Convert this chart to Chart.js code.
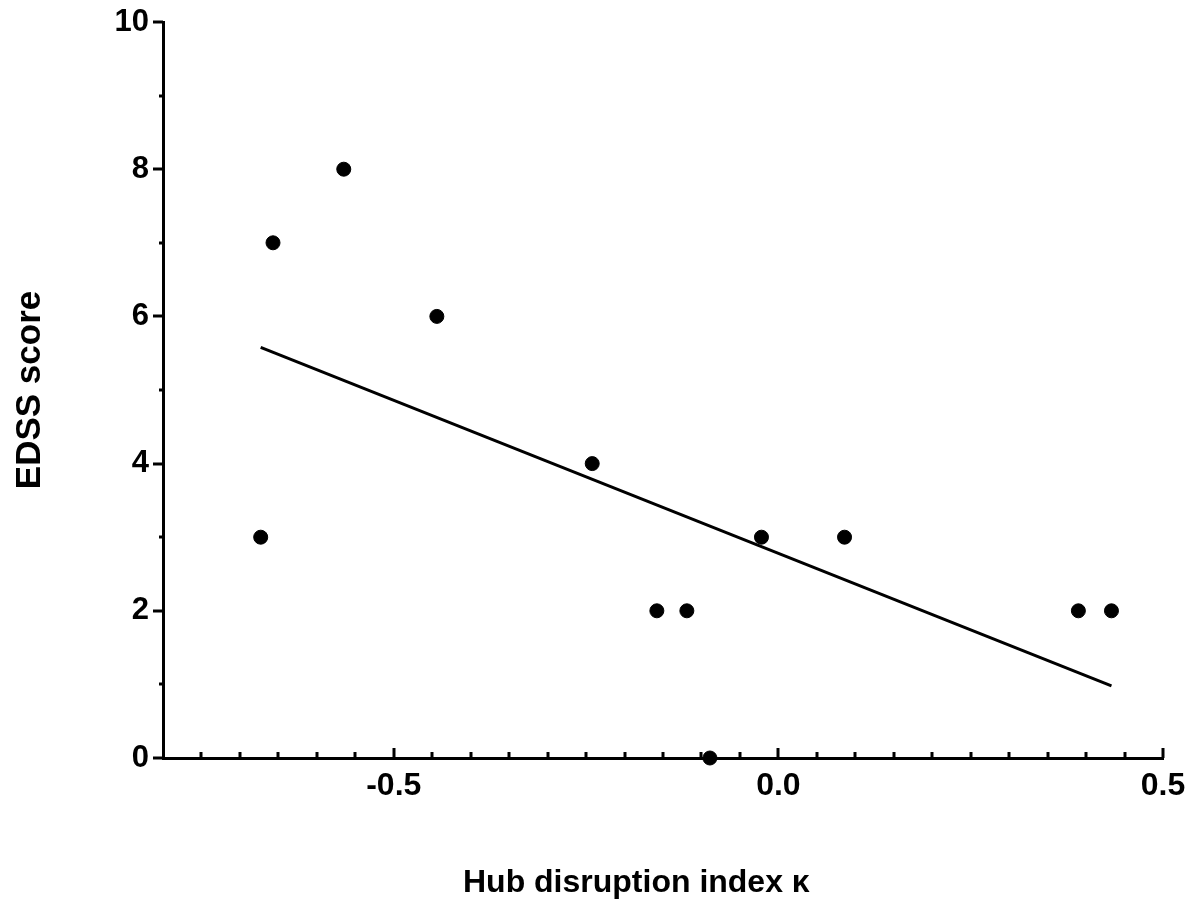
<!DOCTYPE html>
<html>
<head>
<meta charset="utf-8">
<script src="https://cdn.jsdelivr.net/npm/chart.js@4"></script>
<style>
  body { margin: 0; background: #fff; }
  #wrap { width: 1204px; height: 905px; }
</style>
</head>
<body>
<div id="wrap"><canvas id="chart" width="1204" height="905"></canvas></div>
<script>
// points
const hubIndex = [-0.673, -0.657, -0.565, -0.444, -0.242, -0.158, -0.119, -0.089, -0.022, 0.086, 0.390, 0.433];
const edss     = [3, 7, 8, 6, 4, 2, 2, 0, 3, 3, 2, 2];
// fitted line end points
const fitX = [-0.673, 0.433];
const fitY = [5.58, 0.98];
const xTicks = [-0.5, 0.0, 0.5];
const yTicks = [0, 2, 4, 6, 8, 10];

const FONT = "'Liberation Sans', Arial, sans-serif";

// draws inward x ticks and outward y ticks, major + minor
const tickPlugin = {
    id: 'ticks',
    afterDraw(chart) {
        const c = chart.ctx;
        const xs = chart.scales.x, ys = chart.scales.y;
        c.save();
        c.strokeStyle = '#000';
        c.lineWidth = 3;
        c.lineCap = 'butt';
        const yb = ys.getPixelForValue(0);
        for (let i = 1; i <= 26; i++) {
            const v = -0.8 + i * 0.05;
            const px = Math.round(xs.getPixelForValue(v));
            const major = xTicks.some(t => Math.abs(t - v) < 1e-6);
            c.beginPath();
            c.moveTo(px, yb);
            c.lineTo(px, yb - (major ? 10 : 6));
            c.stroke();
        }
        const xl = xs.getPixelForValue(-0.8);
        for (let v = 0; v <= 10; v++) {
            const py = Math.round(ys.getPixelForValue(v));
            const major = v % 2 === 0;
            c.beginPath();
            c.moveTo(xl, py);
            c.lineTo(xl - (major ? 10 : 4), py);
            c.stroke();
        }
        c.restore();
    }
};

const ctx = document.getElementById('chart').getContext('2d');
new Chart(ctx, {
    type: 'scatter',
    data: {
        datasets: [
            {
                label: 'EDSS',
                data: hubIndex.map((x, i) => ({ x: x, y: edss[i] })),
                backgroundColor: '#000',
                borderColor: '#000',
                pointRadius: 7,
                pointHoverRadius: 7,
                clip: false
            },
            {
                label: 'fit',
                type: 'line',
                data: fitX.map((x, i) => ({ x: x, y: fitY[i] })),
                borderColor: '#000',
                borderWidth: 3,
                pointRadius: 0,
                fill: false,
                clip: false
            }
        ]
    },
    options: {
        responsive: false,
        animation: false,
        devicePixelRatio: 1,
        layout: { padding: { top: 22, right: 41, left: 0, bottom: 0 } },
        plugins: { legend: { display: false }, tooltip: { enabled: false } },
        scales: {
            x: {
                type: 'linear',
                min: -0.8,
                max: 0.5,
                afterBuildTicks: s => { s.ticks = xTicks.map(v => ({ value: v })); },
                afterFit: s => { s.height = 147; s.paddingLeft = 0; s.paddingRight = 0; },
                grid: { drawOnChartArea: false, drawTicks: false },
                border: { display: true, color: '#000', width: 3 },
                ticks: {
                    color: '#000',
                    padding: 9,
                    maxRotation: 0,
                    font: { family: FONT, size: 32, weight: 'bold' },
                    callback: v => v.toFixed(1)
                },
                title: {
                    display: true,
                    text: 'Hub disruption index κ\u00a0\u00a0\u00a0\u00a0\u00a0\u00a0',
                    color: '#000',
                    padding: { top: 0, bottom: 3 },
                    font: { family: FONT, size: 32, weight: 'bold' }
                }
            },
            y: {
                type: 'linear',
                min: 0,
                max: 10,
                afterBuildTicks: s => { s.ticks = yTicks.map(v => ({ value: v })); },
                afterFit: s => { s.width = 163; s.paddingTop = 0; s.paddingBottom = 0; },
                grid: { drawOnChartArea: false, drawTicks: false },
                border: { display: true, color: '#000', width: 3 },
                ticks: {
                    color: '#000',
                    padding: 14,
                    font: { family: FONT, size: 31, weight: 'bold' },
                    callback: v => String(v)
                },
                title: {
                    display: true,
                    text: 'EDSS score',
                    color: '#000',
                    padding: { top: 9, bottom: 0 },
                    font: { family: FONT, size: 35, weight: 'bold' }
                }
            }
        }
    },
    plugins: [tickPlugin]
});
</script>
</body>
</html>
